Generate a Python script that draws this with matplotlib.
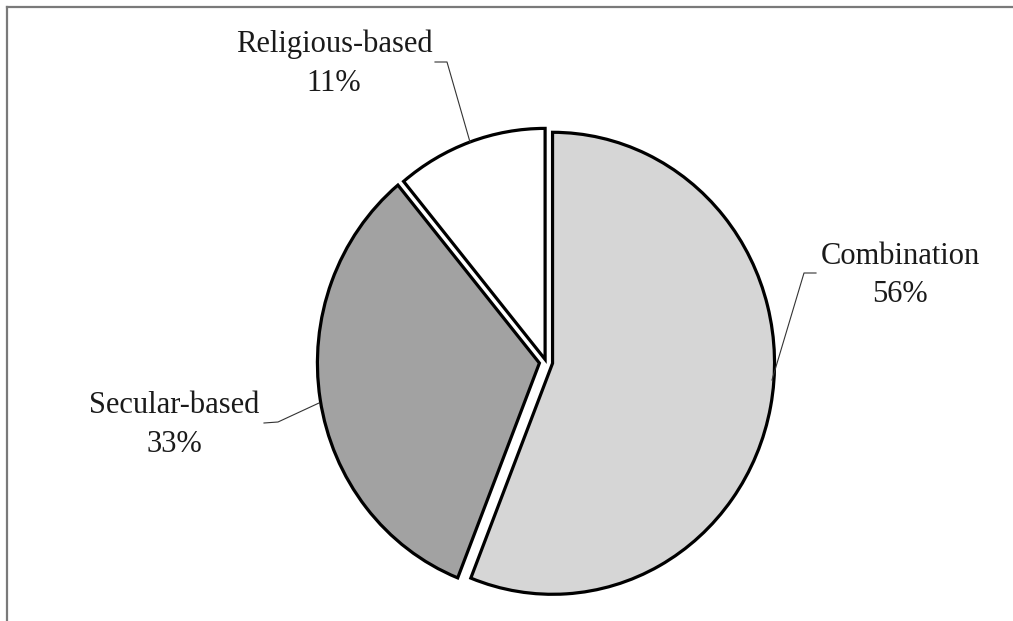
import numpy as np
import matplotlib
matplotlib.use("Agg")
import matplotlib.pyplot as plt

# survey breakdown by type of programme
labels = ["Combination", "Secular-based", "Religious-based"]
shares = [56, 33, 11]
colours = ["#d6d6d6", "#a2a2a2", "#ffffff"]

W, H = 1013, 621
# pie centre and radii in pixels (the pie is drawn as a slightly tall ellipse)
cx, cy, rx, ry = 546, 362, 222, 231


def px(x, y):
    """pixel position (origin top-left) -> data coords of the full-figure axes"""
    return (x - cx) / rx, (cy - y) / ry


fig = plt.figure(figsize=(W / 100, H / 100), dpi=100)
ax = fig.add_axes([0, 0, 1, 1])

wedges, _ = ax.pie(shares, startangle=90, counterclock=False,
                   explode=[0.03, 0.03, 0.012], colors=colours,
                   wedgeprops=dict(edgecolor="black", linewidth=2.3,
                                   joinstyle="miter"))

ax.set_aspect("auto")
x0, y1 = px(0, 0)
x1, y0 = px(W, H)
ax.set_xlim(x0, x1)
ax.set_ylim(y0, y1)
ax.axis("off")

font = dict(family="Liberation Serif", fontsize=22, color="#1a1a1a", ha="center")

# label text positions: centre x, baselines of the two lines
label_pos = {
    "Combination": (900, 264, 302),
    "Secular-based": (174, 413, 452),
    "Religious-based": (334, 52, 91),
}
# leader lines: label end, elbow, wedge end
leaders = {
    "Combination": [(816, 273), (804, 273), (772, 380)],
    "Secular-based": [(264, 423), (278, 422), (319, 403)],
    "Religious-based": [(435, 62), (447, 62), (470, 142)],
}

for name, pct in zip(labels, shares):
    x, b1, b2 = label_pos[name]
    ax.text(*px(x, b1), name, va="baseline", **font)
    ax.text(*px(x, b2), f"{pct}%", va="baseline", **font)
    pts = np.array([px(*p) for p in leaders[name]])
    ax.plot(pts[:, 0], pts[:, 1], color="#333333", lw=0.8)

# outer frame (top and left edges)
fx, fy = 6.5 / W, 1 - 6.5 / H
fig.add_artist(plt.Line2D([fx, 1], [fy, fy], transform=fig.transFigure,
                          color="#7a7a7a", lw=1.6))
fig.add_artist(plt.Line2D([fx, fx], [0, fy], transform=fig.transFigure,
                          color="#7a7a7a", lw=1.6))

fig.savefig("out.png", dpi=100)
